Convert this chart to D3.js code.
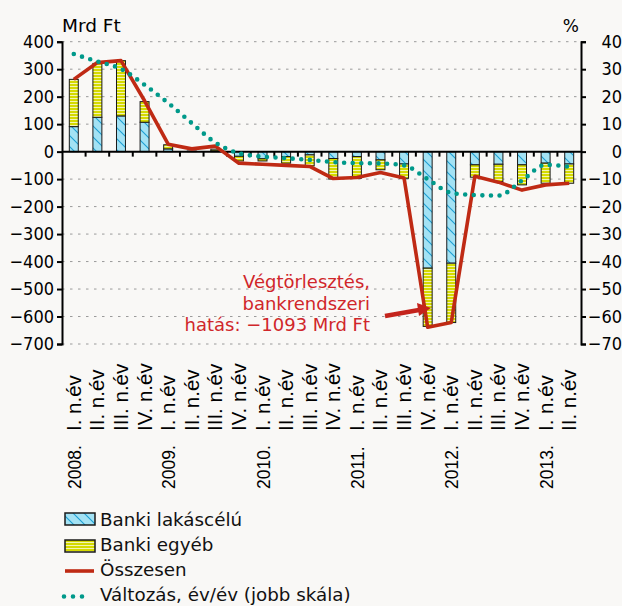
<!DOCTYPE html>
<html><head><meta charset="utf-8">
<script src="https://cdn.jsdelivr.net/npm/d3@7"></script>
<style>
html,body{margin:0;padding:0;background:#f9f8f6;}
svg{display:block;}
</style></head>
<body>
<svg id="chart" width="622" height="606"></svg>
<script>
const quarters = ["I. n.év","II. n.év","III. n.év","IV. n.év","I. n.év","II. n.év","III. n.év","IV. n.év","I. n.év","II. n.év","III. n.év","IV. n.év","I. n.év","II. n.év","III. n.év","IV. n.év","I. n.év","II. n.év","III. n.év","IV. n.év","I. n.év","II. n.év"];
const years = ["2008.","","","","2009.","","","","2010.","","","","2011.","","","","2012.","","","","2013.",""];
const bankiLakascelu = [91,125,130,107,10,1,3,-17,-26,-18,-12,-25,-18,-30,-45,-424,-406,-48,-46,-48,-42,-45];
const bankiEgyeb = [172,196,201,75,15,1,6,-17,-8,-24,-40,-75,-79,-36,-52,-212,-216,-45,-63,-73,-73,-70];
const osszesen = [263,324,331,185,27,10,20,-42,-46,-50,-54,-98,-94,-76,-96,-639,-622,-90,-111,-140,-121,-115];
const valtozas = [35.5,32.8,30.1,24.3,17.7,10.4,3.3,-0.6,-1.8,-2.4,-3,-3.8,-4.2,-4.3,-5,-10,-15,-15.8,-16,-10.5,-4.8,-5.5];
const leftTicks = [400,300,200,100,0,-100,-200,-300,-400,-500,-600,-700];
const rightTicks = [40,30,20,10,0,-10,-20,-30,-40,-50,-60,-70];
const legendLabels = ["Banki lakáscélú","Banki egyéb","Összesen","Változás, év/év (jobb skála)"];
const annotationLines = ["Végtörlesztés,","bankrendszeri","hatás: −1093 Mrd Ft"];

const svg = d3.select("#chart");
const L = 62, R = 581, T = 41.7, B = 344;
const idx = d3.range(quarters.length);
const x = d3.scaleBand().domain(idx).range([L, R]).paddingInner(0.62).paddingOuter(0.31);
const yL = d3.scaleLinear().domain([-700, 400]).range([B, T]);
const yR = d3.scaleLinear().domain([-70, 40]).range([B, T]);
const fmt = v => v < 0 ? "\u2212" + Math.abs(v) : String(v);
const FONT = "'DejaVu Sans', Verdana, sans-serif";
const FONTC = "'DejaVu Sans Condensed', 'DejaVu Sans', sans-serif";
const cx = i => x(i) + x.bandwidth() / 2;

// patterns
const defs = svg.append("defs");
const pb = defs.append("pattern").attr("id","hatchBlue").attr("patternUnits","userSpaceOnUse").attr("width",11).attr("height",11);
pb.append("rect").attr("width",11).attr("height",11).attr("fill","#a3e2f4");
pb.append("path").attr("d","M0,0L11,11M-2,9L2,13M9,-2L13,2").attr("stroke","#1d9fd3").attr("stroke-width",1.1);
const py = defs.append("pattern").attr("id","stripeYellow").attr("patternUnits","userSpaceOnUse").attr("width",6).attr("height",3);
py.append("rect").attr("width",6).attr("height",3).attr("fill","#d5da00");
py.append("rect").attr("y",2).attr("width",6).attr("height",1).attr("fill","#f3f4b4");

// grid
svg.append("g").selectAll("line").data(leftTicks.filter(d => d !== 0)).join("line")
  .attr("x1", L).attr("x2", R).attr("y1", d => yL(d)).attr("y2", d => yL(d))
  .attr("stroke","#9a9a9a").attr("stroke-width",1).attr("stroke-dasharray","2.5,5.5");

// bars
const gb = svg.append("g");
idx.forEach(i => {
  const b = bankiLakascelu[i], e = bankiEgyeb[i];
  gb.append("rect").attr("x", x(i)).attr("width", x.bandwidth())
    .attr("y", yL(Math.max(0,b))).attr("height", Math.abs(yL(b)-yL(0)))
    .attr("fill","url(#hatchBlue)").attr("stroke","#1a1a1a").attr("stroke-width",1);
  gb.append("rect").attr("x", x(i)).attr("width", x.bandwidth())
    .attr("y", yL(Math.max(b, b+e))).attr("height", Math.abs(yL(b+e)-yL(b)))
    .attr("fill","url(#stripeYellow)").attr("stroke","#1a1a1a").attr("stroke-width",1);
});

// zero line with ticks at band boundaries
svg.append("line").attr("x1",L).attr("x2",R).attr("y1",yL(0)).attr("y2",yL(0)).attr("stroke","#000").attr("stroke-width",2);
svg.append("g").selectAll("line").data(d3.range(1, quarters.length)).join("line")
  .attr("x1", k => L + k * x.step()).attr("x2", k => L + k * x.step())
  .attr("y1", yL(0)).attr("y2", yL(0) + 5).attr("stroke","#000").attr("stroke-width",2);

// axes
const axL = svg.append("g").attr("transform",`translate(${L},0)`)
  .call(d3.axisLeft(yL).tickValues(leftTicks).tickFormat(fmt).tickSize(5).tickPadding(3));
const axR = svg.append("g").attr("transform",`translate(${R},0)`)
  .call(d3.axisRight(yR).tickValues(rightTicks).tickFormat(fmt).tickSize(5).tickPadding(3));
[axL, axR].forEach(a => {
  a.select(".domain").attr("stroke","#000").attr("stroke-width",2);
  a.selectAll(".tick line").attr("stroke","#000").attr("stroke-width",2);
  a.selectAll(".tick text").attr("font-family",FONTC).attr("font-stretch","condensed").attr("font-size",18).attr("fill","#000");
});
axR.selectAll(".tick text").attr("text-anchor","end").attr("x", 622 - R);

svg.append("text").attr("x",62).attr("y",31.5).attr("font-family",FONT).attr("font-size",18.5).text("Mrd Ft");
svg.append("text").attr("x",579).attr("y",31.5).attr("text-anchor","end").attr("font-family",FONT).attr("font-size",17).text("%");

// category labels
const gx = svg.append("g").attr("font-family","'Liberation Sans', Arial, sans-serif").attr("fill","#000");
idx.forEach(i => {
  gx.append("text").attr("font-size",20.5).attr("transform",`translate(${cx(i)+7},431) rotate(-90)`).text(quarters[i]);
  if (years[i]) gx.append("text").attr("font-size",17.5).attr("transform",`translate(${cx(i)+7},489) rotate(-90)`).text(years[i]);
});

// red line
svg.append("path").datum(idx).attr("fill","none").attr("stroke","#bf2a14").attr("stroke-width",3.6).attr("stroke-linejoin","round")
  .attr("d", d3.line().x(i => cx(i)).y(i => yL(osszesen[i])));

// dotted line
svg.append("path").datum(idx).attr("fill","none").attr("stroke","#00998a").attr("stroke-width",4.6)
  .attr("stroke-linecap","round").attr("stroke-dasharray","0,8.6")
  .attr("d", d3.line().curve(d3.curveMonotoneX).x(i => cx(i)).y(i => yR(valtozas[i])));

// annotation
const ga = svg.append("g");
ga.append("line").attr("x1",385).attr("y1",316).attr("x2",419).attr("y2",310).attr("stroke","#c4241c").attr("stroke-width",4.5);
ga.append("path").attr("d","M431,308L417,303L419,316Z").attr("fill","#c4241c");
ga.selectAll("text").data(annotationLines).join("text")
  .attr("x",370).attr("y",(d,k) => 288 + k*21.7).attr("text-anchor","end")
  .attr("font-family",FONT).attr("font-size",18).attr("fill","#d0262a").text(d => d);

// legend
const lg = svg.append("g").attr("font-family",FONT).attr("font-size",18.3).attr("fill","#111");
lg.append("rect").attr("x",65).attr("y",513).attr("width",30).attr("height",12).attr("fill","url(#hatchBlue)").attr("stroke","#1a1a1a").attr("stroke-width",1.5);
lg.append("rect").attr("x",65).attr("y",540).attr("width",30).attr("height",12).attr("fill","url(#stripeYellow)").attr("stroke","#1a1a1a").attr("stroke-width",1.5);
lg.append("line").attr("x1",65).attr("x2",94).attr("y1",571).attr("y2",571).attr("stroke","#bf2a14").attr("stroke-width",3.6);
lg.append("line").attr("x1",64).attr("x2",90).attr("y1",596.5).attr("y2",596.5).attr("stroke","#00998a").attr("stroke-width",4.6).attr("stroke-linecap","round").attr("stroke-dasharray","0,9");
lg.selectAll("text").data(legendLabels).join("text")
  .attr("x",100).attr("y",(d,k) => 526 + k*25).text(d => d);
</script>
</body></html>
